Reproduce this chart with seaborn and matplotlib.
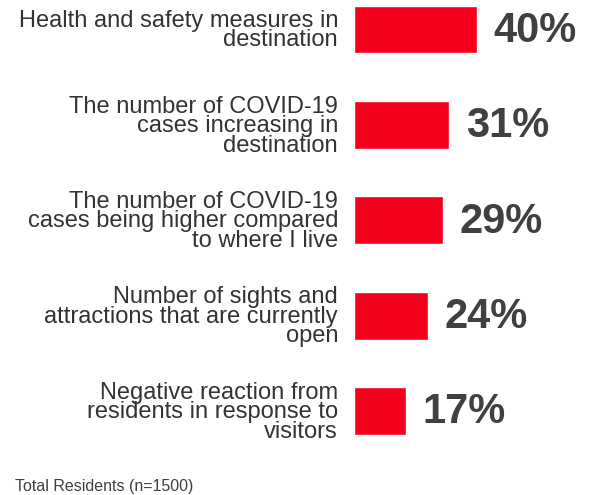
import matplotlib
matplotlib.use("Agg")
import matplotlib.pyplot as plt
import seaborn as sns
import pandas as pd

categories = [
    "Health and safety measures in\ndestination",
    "The number of COVID-19\ncases increasing in\ndestination",
    "The number of COVID-19\ncases being higher compared\nto where I live",
    "Number of sights and\nattractions that are currently\nopen",
    "Negative reaction from\nresidents in response to\nvisitors",
]
values = [40, 31, 29, 24, 17]
value_labels = ["40%", "31%", "29%", "24%", "17%"]
footnote = "Total Residents (n=1500)"

sns.set_theme(style="white")
plt.rcParams["font.family"] = ["Liberation Sans", "DejaVu Sans"]

df = pd.DataFrame({"cat": categories, "val": values})

fig = plt.figure(figsize=(5.92, 4.95), dpi=100)
W, H = 592, 495
left_px, right_px, top_px, bot_px = 354, 592, 0, 459
ax = fig.add_axes([left_px / W, 1 - bot_px / H, (right_px - left_px) / W, (bot_px - top_px) / H])

sns.barplot(data=df, x="val", y="cat", orient="h", color="#F4001C",
            saturation=1, width=0.5, ax=ax)

ax.set_xlim(0, (right_px - left_px) / 3.07)
ax.set_ylim(4 + (bot_px - 411) / 95.5, -29.5 / 95.5)

for i, (v, lab) in enumerate(zip(values, value_labels)):
    ax.annotate(lab, xy=(v, i), xytext=(12, -1), textcoords="offset points",
                ha="left", va="center", fontsize=30, fontweight="bold",
                color="#404040")

ax.set_xlabel("")
ax.set_ylabel("")
ax.set_xticks([])
ax.tick_params(axis="y", length=0, pad=11.5)
for t in ax.get_yticklabels():
    t.set_fontsize(17)
    t.set_color("#333333")
    t.set_multialignment("right")
    t.set_linespacing(0.85)
for s in ax.spines.values():
    s.set_visible(False)

fig.text(15 / W, 1 - 486 / H, footnote, fontsize=11.5, color="#404040",
         ha="left", va="center")

fig.savefig("out.png", dpi=100)
